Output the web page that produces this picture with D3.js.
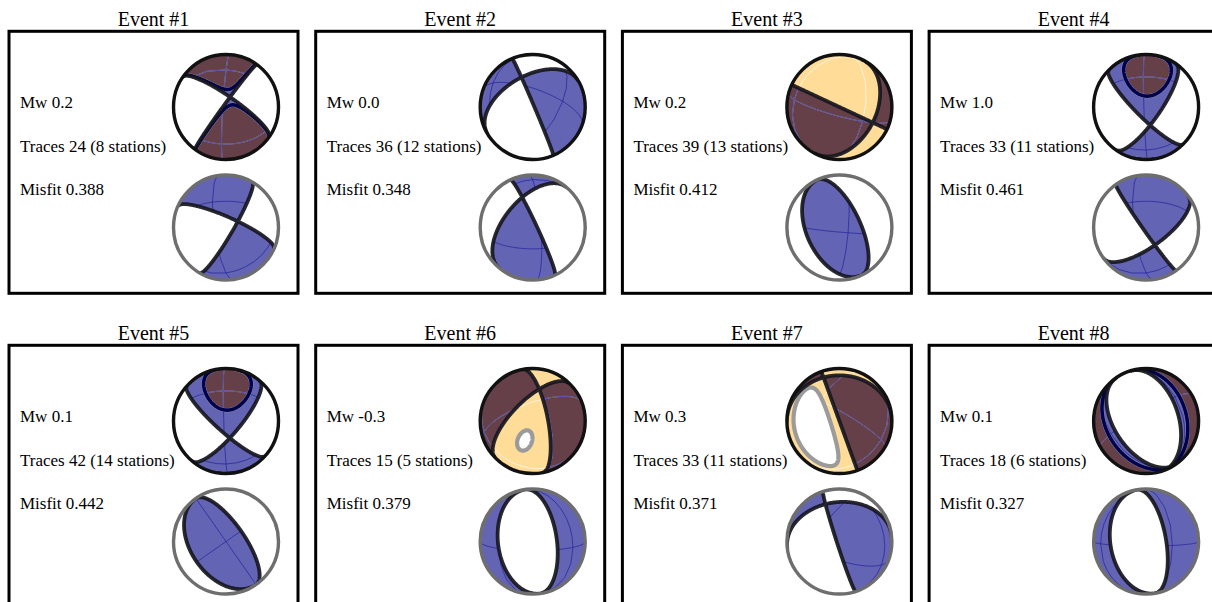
<!DOCTYPE html>
<html>
<head>
<meta charset="utf-8">
<script src="https://cdn.jsdelivr.net/npm/d3@7"></script>
<style>
  body { margin: 0; background: #fff; }
  text { font-family: "Liberation Serif", "Times New Roman", serif; fill: #000; }
</style>
</head>
<body>
<svg id="fig" width="1212" height="602"></svg>
<script>
// ---- event summary ----
const events   = ["Event #1", "Event #2", "Event #3", "Event #4", "Event #5", "Event #6", "Event #7", "Event #8"];
const mw       = [0.2, 0.0, 0.2, 1.0, 0.1, -0.3, 0.3, 0.1];
const traces   = [24, 36, 39, 33, 42, 15, 33, 18];
const stations = [8, 12, 13, 11, 14, 5, 11, 6];
const misfit   = [0.388, 0.348, 0.412, 0.461, 0.442, 0.379, 0.371, 0.327];

// ---- radiation patterns, in the frame of the viewer ----
// each entry: [limb azimuth of plane 1 (deg), bulge of plane 1, limb azimuth of plane 2, bulge of plane 2, polarity, isotropic term]
// full moment tensor, deviatoric part (blue)
const fullDev = [
  [35, -0.20, -54, -0.05, 1, 0],
  [-113, 0.03, -30, -0.60, 1, 0],
  [25, 0.00, -62, 0.70, -1, 0],
  [45, 0.20, -55, 0.27, 1, 0],
  [42, 0.20, -50, 0.27, 1, 0],
  [-101, 0.29, -45, -0.40, 1, 0],
  [-110, 0.00, 0, -0.87, 1, 0],
  [55, 0.60, -108, 0.62, -1, 0]
];
// full moment tensor, total pattern (orange)
const fullTot = [
  [35, -0.20, -54, -0.05, 1, -0.012],
  [0, 0, 0, 0, 0, -1],
  [0, 0, 0, 0, 0, 1],
  [-125.6, -0.426, 130, -0.426, 1, -0.283],
  [-125.6, -0.426, 130, -0.426, 1, -0.283],
  [-50.1, -0.565, 94.1, -0.565, -1, 0.365],
  [-107.5, -0.930, -107.5, -0.030, 1, 0.12],
  [55, 0.75, -108, 0.77, -1, 0]
];
// double-couple solution (lower ball)
const dcSol = [
  [24, -0.20, -60, 0.14, 1, 0],
  [-115, 0.08, -50, -0.55, -1, 0],
  [-115, -0.63, -115, 0.40, -1, 0],
  [55, 0.06, -36, 0.37, 1, 0],
  [-125, -0.68, -125, 0.35, -1, 0],
  [-98, -0.66, -98, 0.46, 1, 0],
  [-108, -0.05, -7, -0.75, 1, 0],
  [-100, -0.68, -100, 0.38, 1, 0]
];
// orientation of the reference graticule on each sphere
const viewTop = [[-5, -45, 0], [30, 20, -20], [30, -10, -15], [-3, 35, 0], [-3, 35, 0], [20, 20, 20], [-30, 10, -30], [45, 10, 30]];
const viewBot = [[-15, 30, 0], [10, -24, 0], [10, -5, -5], [-15, 30, 0], [0, 0, 35], [-40, -10, 0], [-25, -20, -20], [-60, -5, 0]];

// ---- style ----
const BLUE = "#6464b4", YELLOW = "#ffdd99", BROWN = "#654049";
const NODAL = "#16161e", NAVY = "#000050", GREY = "#9b9b9b";

const svg = d3.select("#fig");
const defs = svg.append("defs");

const colX = d3.scaleLinear().domain([0, 1]).range([9, 315.7]);
const rowY = d3.scaleLinear().domain([0, 1]).range([31.3, 345.3]);
const PW = 289, PH = 262, R = 52.5;
const N = 181, L = 1.04;

const rad = Math.PI / 180;
const dot = (a, b) => a[0] * b[0] + a[1] * b[1] + a[2] * b[2];
function planeNormal(az, b) {
  const s = Math.sqrt(Math.max(0, 1 - b * b));
  return [-Math.sin(az * rad) * s, Math.cos(az * rad) * s, -b];
}
// sample the pattern over the visible hemisphere and trace its zero level
function lobes(spec) {
  const n1 = planeNormal(spec[0], spec[1]), n2 = planeNormal(spec[2], spec[3]);
  const vals = new Float64Array(N * N);
  for (let j = 0; j < N; j++) {
    for (let i = 0; i < N; i++) {
      const u = -L + 2 * L * i / (N - 1), v = -L + 2 * L * j / (N - 1);
      const r2 = u * u + v * v;
      let p;
      if (r2 <= 1) p = [u, v, Math.sqrt(1 - r2)];
      else { const r = Math.sqrt(r2); p = [u / r, v / r, 0]; }
      vals[j * N + i] = spec[4] * dot(p, n1) * dot(p, n2) + spec[5];
    }
  }
  return d3.contours().size([N, N]).thresholds([0])(vals)[0];
}

let uid = 0;
function clip(d) {
  const id = "c" + (uid++);
  defs.append("clipPath").attr("id", id).append("path").attr("d", d).attr("clip-rule", "evenodd");
  return "url(#" + id + ")";
}

function ball(cx, cy, dev, tot, rot, ringColor) {
  const k = 2 * L * R / (N - 1);
  const path = d3.geoPath(d3.geoIdentity().scale(k).translate([cx - L * R - 0.5 * k, cy - L * R - 0.5 * k]));
  const ortho = d3.geoOrthographic().scale(R).translate([cx, cy]).rotate(rot).clipAngle(90);
  const grat = d3.geoPath(ortho)(d3.geoGraticule().step([90, 90])());

  const discId = "c" + (uid++);
  defs.append("clipPath").attr("id", discId).append("circle").attr("cx", cx).attr("cy", cy).attr("r", R);
  const g = svg.append("g").attr("clip-path", "url(#" + discId + ")");
  g.append("circle").attr("cx", cx).attr("cy", cy).attr("r", R + 2).attr("fill", "#fff");

  const dPath = path(lobes(dev));
  const dClip = clip(dPath);
  g.append("path").attr("d", dPath).attr("fill", BLUE).attr("fill-rule", "evenodd");

  let tPath = null, tClip = null;
  if (tot) {
    tPath = path(lobes(tot));
    tClip = clip(tPath);
    g.append("path").attr("d", tPath).attr("fill", YELLOW).attr("fill-rule", "evenodd");
    g.append("g").attr("clip-path", dClip)
      .append("path").attr("d", tPath).attr("fill", BROWN).attr("fill-rule", "evenodd");
    g.append("g").attr("clip-path", tClip)
      .append("path").attr("d", grat).attr("fill", "none").attr("stroke", "#fff")
      .attr("stroke-opacity", 0.7).attr("stroke-width", 0.9);
  }
  g.append("g").attr("clip-path", dClip)
    .append("path").attr("d", grat).attr("fill", "none").attr("stroke", "#1f1f9a")
    .attr("stroke-opacity", 0.75).attr("stroke-width", 0.9);

  if (tot) {
    g.append("path").attr("d", tPath).attr("fill", "none").attr("stroke", GREY).attr("stroke-width", 4.2);
    g.append("g").attr("clip-path", dClip)
      .append("path").attr("d", tPath).attr("fill", "none").attr("stroke", NAVY).attr("stroke-width", 3.6);
  }
  g.append("path").attr("d", dPath).attr("fill", "none").attr("stroke", NODAL)
    .attr("stroke-opacity", 0.92).attr("stroke-width", 3.8);

  svg.append("circle").attr("cx", cx).attr("cy", cy).attr("r", R)
    .attr("fill", "none").attr("stroke", ringColor).attr("stroke-width", 3.4);
}

events.forEach((name, e) => {
  const x0 = colX(e % 4), y0 = rowY(Math.floor(e / 4));
  svg.append("rect").attr("x", x0).attr("y", y0).attr("width", PW).attr("height", PH)
    .attr("fill", "none").attr("stroke", "#000").attr("stroke-width", 3);
  svg.append("text").attr("x", x0 + PW / 2).attr("y", y0 - 5.3)
    .attr("text-anchor", "middle").attr("font-size", 20).text(name);
  const lines = ["Mw " + mw[e].toFixed(1),
                 "Traces " + traces[e] + " (" + stations[e] + " stations)",
                 "Misfit " + misfit[e].toFixed(3)];
  lines.forEach((t, i) => {
    svg.append("text").attr("x", x0 + 11).attr("y", y0 + 76.7 + i * 43.5)
      .attr("font-size", 17).text(t);
  });
  ball(x0 + 217, y0 + 75.7, fullDev[e], fullTot[e], viewTop[e], "#111");
  ball(x0 + 217, y0 + 196.2, dcSol[e], null, viewBot[e], "#6e6e6e");
});
</script>
</body>
</html>
